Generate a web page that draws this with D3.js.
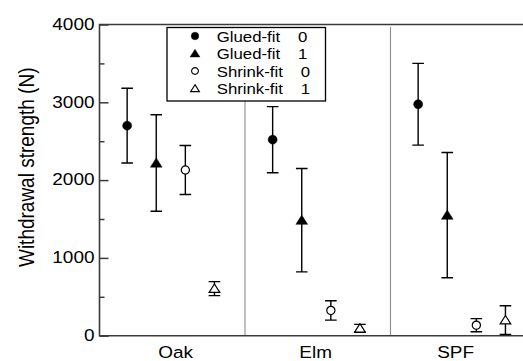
<!DOCTYPE html>
<html>
<head>
<meta charset="utf-8">
<script src="https://cdn.jsdelivr.net/npm/d3@7"></script>
<style>
  html, body { margin: 0; padding: 0; background: #fff; }
  svg { display: block; font-family: "Liberation Sans", Arial, sans-serif; }
</style>
</head>
<body>
<svg id="chart" width="523" height="361"></svg>
<script>
// Wood species (groups along x)
const species = ["Oak", "Elm", "SPF"];
// Joint types shown within each group
const series = ["Glued-fit 0", "Glued-fit 1", "Shrink-fit 0", "Shrink-fit 1"];
const seriesName = ["Glued-fit", "Glued-fit", "Shrink-fit", "Shrink-fit"];
const seriesCode = ["0", "1", "0", "1"];
// Mean withdrawal strength (N), one array per series, ordered Oak, Elm, SPF
const gluedFit0Mean = [2700, 2520, 2975];
const gluedFit1Mean = [2220, 1485, 1550];
const shrinkFit0Mean = [2130, 325, 135];
const shrinkFit1Mean = [605, 95, 200];
// Standard deviations (N)
const gluedFit0Sd = [480, 425, 525];
const gluedFit1Sd = [620, 665, 805];
const shrinkFit0Sd = [315, 125, 85];
const shrinkFit1Sd = [90, 50, 185];
// Y axis ticks
const yMajorTicks = [0, 1000, 2000, 3000, 4000];
const yMinorTicks = [500, 1500, 2500, 3500];

const means = [gluedFit0Mean, gluedFit1Mean, shrinkFit0Mean, shrinkFit1Mean];
const sds = [gluedFit0Sd, gluedFit1Sd, shrinkFit0Sd, shrinkFit1Sd];
const markerFill = ["#000", "#000", "#fff", "#fff"];
const markerShape = ["circle", "triangle", "circle", "triangle"];
const slotOffset = [0.19, 0.39, 0.59, 0.79];

const svg = d3.select("#chart");
const plotLeft = 99.5, plotTop = 24.5, plotBottom = 335.7;

// Group axis: each species occupies one unit
const x = d3.scaleLinear().domain([0, 3]).range([plotLeft, 536]);
const y = d3.scaleLinear().domain([0, 4000]).range([plotBottom, plotTop]);
const xLabel = d3.scaleBand().domain(species).range([105.6, 525.6]);

const TEXT_SX = 1.15;
function stretchedText(g, tx, ty, str, size, anchor, sx) {
  return g.append("text")
    .attr("transform", `translate(${tx},${ty}) scale(${sx},1)`)
    .attr("text-anchor", anchor)
    .attr("font-size", size)
    .attr("fill", "#000")
    .text(str);
}

function symbolPath(shape, r) {
  const p = d3.path();
  if (shape === "circle") {
    p.moveTo(r, 0);
    p.arc(0, 0, r, 0, 2 * Math.PI);
    p.closePath();
    return p.toString();
  }
  // triangle, slightly wider than tall
  const hw = r * 1.3, h = r * 2.05;
  p.moveTo(0, -h * 0.55);
  p.lineTo(hw, h * 0.45);
  p.lineTo(-hw, h * 0.45);
  p.closePath();
  return p.toString();
}

// Group separators
svg.append("g").selectAll("line")
  .data([1, 2]).join("line")
  .attr("x1", d => x(d)).attr("x2", d => x(d))
  .attr("y1", 27).attr("y2", plotBottom)
  .attr("stroke", "#8c8c8c").attr("stroke-width", 1.1);

// Frame: top line, left axis, bottom axis
svg.append("path")
  .attr("d", `M523,${plotTop}H${plotLeft}V${plotBottom}H523`)
  .attr("stroke", "#3a3a3a").attr("stroke-width", 1.6).attr("fill", "none");

// Left axis ticks (pointing inward)
const yAxis = d3.axisRight(y).tickValues(yMajorTicks).tickSize(9).tickFormat("");
const gy = svg.append("g").attr("transform", `translate(${plotLeft},0)`).call(yAxis);
gy.select(".domain").remove();
gy.selectAll(".tick line").attr("stroke", "#3a3a3a").attr("stroke-width", 1.5);
const yAxisMinor = d3.axisRight(y).tickValues(yMinorTicks).tickSize(5).tickFormat("");
const gym = svg.append("g").attr("transform", `translate(${plotLeft},0)`).call(yAxisMinor);
gym.select(".domain").remove();
gym.selectAll(".tick line").attr("stroke", "#3a3a3a").attr("stroke-width", 1.5);

// Tick labels
const tickLabels = svg.append("g");
yMajorTicks.forEach(v => {
  stretchedText(tickLabels, 94.5, y(v) + 5.2, String(v), 16.5, "end", TEXT_SX);
});

// Category labels
const catLabels = svg.append("g");
species.forEach(s => {
  stretchedText(catLabels, xLabel(s) + xLabel.bandwidth() / 2, 358, s, 16.5, "middle", TEXT_SX);
});

// Axis title
svg.append("text")
  .attr("transform", `translate(33.5,167.3) scale(${TEXT_SX},1) rotate(-90)`)
  .attr("text-anchor", "middle")
  .attr("font-size", 19)
  .attr("fill", "#000")
  .text("Withdrawal strength (N)");

// Error bars and markers
const rows = [];
series.forEach((s, k) => {
  species.forEach((sp, i) => {
    rows.push({ k, pos: i + slotOffset[k], mean: means[k][i], sd: sds[k][i] });
  });
});

const capHalf = 5.8;
svg.append("g").attr("stroke", "#000").attr("stroke-width", 1.4).attr("fill", "none")
  .selectAll("path").data(rows).join("path")
  .attr("d", d => {
    const cx = x(d.pos), y1 = y(d.mean + d.sd), y0 = y(Math.max(d.mean - d.sd, 0));
    return `M${cx},${y1}V${y0}M${cx - capHalf},${y1}H${cx + capHalf}M${cx - capHalf},${y0}H${cx + capHalf}`;
  });

svg.append("g").selectAll("path").data(rows).join("path")
  .attr("transform", d => `translate(${x(d.pos)},${y(d.mean)})`)
  .attr("d", d => symbolPath(markerShape[d.k], markerFill[d.k] === "#000" ? 4.5 : 4.1))
  .attr("fill", d => markerFill[d.k])
  .attr("stroke", "#000")
  .attr("stroke-width", d => markerFill[d.k] === "#000" ? 0.5 : 1.2);

// Legend
const legend = svg.append("g");
legend.append("rect")
  .attr("x", 167).attr("y", 27.5).attr("width", 158.5).attr("height", 73.5)
  .attr("fill", "#fff").attr("stroke", "#000").attr("stroke-width", 1.3);
const legendRowY = d3.scalePoint().domain(series).range([36, 88.5]);
series.forEach((s, k) => {
  const ry = legendRowY(s);
  legend.append("path")
    .attr("transform", `translate(195,${ry})`)
    .attr("d", symbolPath(markerShape[k], markerFill[k] === "#000" ? 3.8 : 3.4))
    .attr("fill", markerFill[k])
    .attr("stroke", "#000")
    .attr("stroke-width", markerFill[k] === "#000" ? 0.4 : 1.1);
  const t = legend.append("text")
    .attr("transform", `translate(216.7,${ry + 5.6}) scale(1.12,1)`)
    .attr("font-size", 15)
    .attr("fill", "#000");
  t.append("tspan").text(seriesName[k]);
  t.append("tspan").attr("dx", 16).text(seriesCode[k]);
});
</script>
</body>
</html>
